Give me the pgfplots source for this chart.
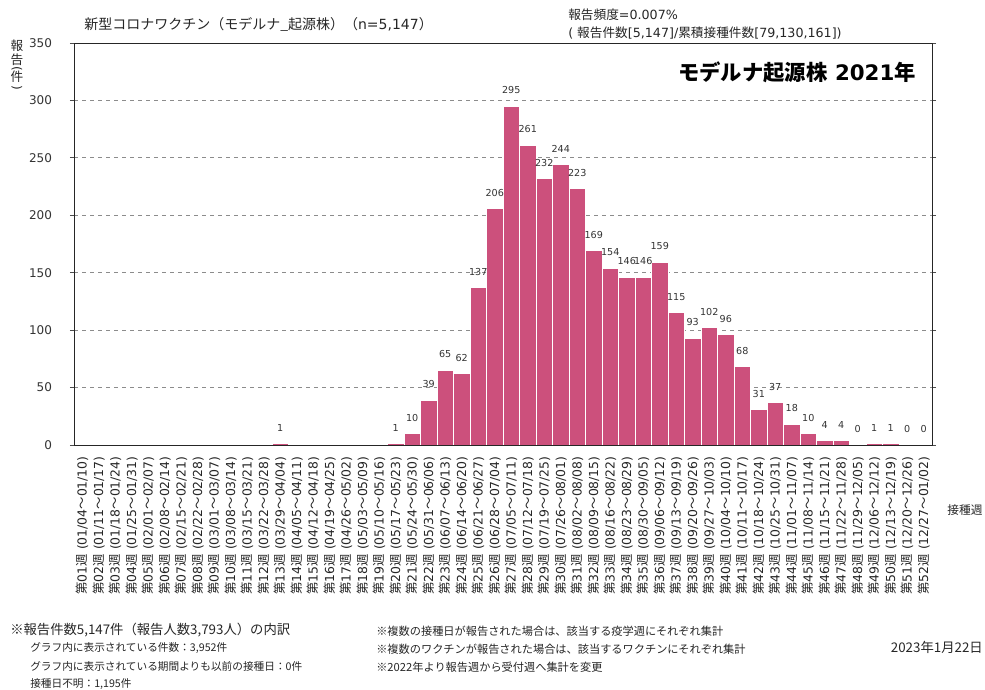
\documentclass[border=0pt]{standalone}
\usepackage{fontspec}
\setmainfont{DejaVu Sans}
\newfontfamily\cjk{Noto Sans CJK JP}
\usepackage{pgfplots}
\pgfplotsset{compat=1.18}
\definecolor{barc}{RGB}{204,80,124}
\newcommand\wk[3]{{\cjk 第}#1{\cjk 週} (#2{\cjk ～}#3)}
\pgfplotstableread{
x y
1 0
2 0
3 0
4 0
5 0
6 0
7 0
8 0
9 0
10 0
11 0
12 0
13 1
14 0
15 0
16 0
17 0
18 0
19 0
20 1
21 10
22 39
23 65
24 62
25 137
26 206
27 295
28 261
29 232
30 244
31 223
32 169
33 154
34 146
35 146
36 159
37 115
38 93
39 102
40 96
41 68
42 31
43 37
44 18
45 10
46 4
47 4
48 0
49 1
50 1
51 0
52 0
}\weeks
\pgfplotstableread{
x y
13 1
20 1
21 10
22 39
23 65
24 62
25 137
26 206
27 295
28 261
29 232
30 244
31 223
32 169
33 154
34 146
35 146
36 159
37 115
38 93
39 102
40 96
41 68
42 31
43 37
44 18
45 10
46 4
47 4
48 0
49 1
50 1
51 0
52 0
}\labs
\begin{document}
\begin{tikzpicture}
\begin{scope}[x=0.75pt,y=-0.75pt]
\path[use as bounding box] (0,0) rectangle (985,689);
\end{scope}
\begin{axis}[
  at={(55.5pt,-333.75pt)}, anchor=south west,
  scale only axis, width=643.5pt, height=301.5pt,
  xmin=0.5, xmax=52.5, ymin=0, ymax=350,
  ytick={0,50,...,350},
  xtick={1,...,52},
  /pgf/number format/assume math mode=true,
  xticklabels={\wk{01}{01/04}{01/10},\wk{02}{01/11}{01/17},\wk{03}{01/18}{01/24},\wk{04}{01/25}{01/31},
  \wk{05}{02/01}{02/07},\wk{06}{02/08}{02/14},\wk{07}{02/15}{02/21},\wk{08}{02/22}{02/28},
  \wk{09}{03/01}{03/07},\wk{10}{03/08}{03/14},\wk{11}{03/15}{03/21},\wk{12}{03/22}{03/28},
  \wk{13}{03/29}{04/04},\wk{14}{04/05}{04/11},\wk{15}{04/12}{04/18},\wk{16}{04/19}{04/25},
  \wk{17}{04/26}{05/02},\wk{18}{05/03}{05/09},\wk{19}{05/10}{05/16},\wk{20}{05/17}{05/23},
  \wk{21}{05/24}{05/30},\wk{22}{05/31}{06/06},\wk{23}{06/07}{06/13},\wk{24}{06/14}{06/20},
  \wk{25}{06/21}{06/27},\wk{26}{06/28}{07/04},\wk{27}{07/05}{07/11},\wk{28}{07/12}{07/18},
  \wk{29}{07/19}{07/25},\wk{30}{07/26}{08/01},\wk{31}{08/02}{08/08},\wk{32}{08/09}{08/15},
  \wk{33}{08/16}{08/22},\wk{34}{08/23}{08/29},\wk{35}{08/30}{09/05},\wk{36}{09/06}{09/12},
  \wk{37}{09/13}{09/19},\wk{38}{09/20}{09/26},\wk{39}{09/27}{10/03},\wk{40}{10/04}{10/10},
  \wk{41}{10/11}{10/17},\wk{42}{10/18}{10/24},\wk{43}{10/25}{10/31},\wk{44}{11/01}{11/07},
  \wk{45}{11/08}{11/14},\wk{46}{11/15}{11/21},\wk{47}{11/22}{11/28},\wk{48}{11/29}{12/05},
  \wk{49}{12/06}{12/12},\wk{50}{12/13}{12/19},\wk{51}{12/20}{12/26},\wk{52}{12/27}{01/02}},
  xticklabel style={rotate=90, anchor=east, font=\fontsize{9.3}{10}\selectfont, xshift=-2pt, text=black!85},
  yticklabel style={font=\fontsize{9}{10}\selectfont, xshift=-10pt, text=black!80},
  ymajorgrids, grid style={dashed, black!45, line width=0.6pt},
  tick align=outside, major tick length=3pt,
  major x tick style={draw=none},
  y tick style={black!70, line width=0.6pt},
  axis line style={black!85, line width=0.7pt},
  clip=false,
]
\addplot[ybar, bar width=1, fill=barc, draw=white, line width=0.7pt] table[x=x,y=y]{\weeks};
\addplot[draw=none, mark=none, nodes near coords, point meta=y,
  every node near coord/.append style={font=\fontsize{7.2}{8}\selectfont, text=black!80, anchor=south, inner sep=0pt, yshift=9pt},
  /pgf/number format/.cd, fixed, precision=0, assume math mode=true] table[x=x,y=y]{\labs};
\draw[black!85, line width=0.7pt] (rel axis cs:0,0) rectangle (rel axis cs:1,1);
\end{axis}
\begin{scope}[x=0.75pt,y=-0.75pt]
\node[anchor=west, inner sep=0pt, font=\fontsize{10.5}{12}\selectfont, text=black!85] at (84,24) {{\cjk 新型コロナワクチン（モデルナ\_起源株）（}n=5,147{\cjk ）}};
\node[anchor=west, inner sep=0pt, font=\fontsize{9.5}{11}\selectfont, text=black!85] at (568,15) {{\cjk 報告頻度}=0.007\%};
\node[anchor=west, inner sep=0pt, font=\fontsize{9.5}{11}\selectfont, text=black!85] at (568,33) {( {\cjk 報告件数}[5,147]/{\cjk 累積接種件数}[79,130,161])};
\node[anchor=east, inner sep=0pt, font=\fontsize{16}{18}\selectfont\bfseries] at (916,72) {{\cjk\bfseries モデルナ起源株} 2021{\cjk\bfseries 年}};
\begin{scope}[every node/.style={inner sep=0pt, font=\cjk\fontsize{9.5}{11}\selectfont, text=black!85}]
\node at (17,46) {報};
\node at (17,60) {告};
\node[rotate=-90, font=\fontsize{9}{10}\selectfont] at (17,69) {(};
\node at (17,77) {件};
\node[rotate=-90, font=\fontsize{9}{10}\selectfont] at (17,88) {)};
\end{scope}
\node[inner sep=0pt, font=\cjk\fontsize{8.8}{10}\selectfont, text=black!85] at (965,510) {接種週};
\node[anchor=west, inner sep=0pt, font=\cjk\fontsize{10}{12}\selectfont, text=black!85] at (10,630) {※報告件数5,147件（報告人数3,793人）の内訳};
\node[anchor=west, inner sep=0pt, font=\cjk\fontsize{8}{10}\selectfont, text=black!85] at (30,648) {グラフ内に表示されている件数：3,952件};
\node[anchor=west, inner sep=0pt, font=\cjk\fontsize{8}{10}\selectfont, text=black!85] at (30,666) {グラフ内に表示されている期間よりも以前の接種日：0件};
\node[anchor=west, inner sep=0pt, font=\cjk\fontsize{8}{10}\selectfont, text=black!85] at (30,684) {接種日不明：1,195件};
\node[anchor=west, inner sep=0pt, font=\cjk\fontsize{8.4}{10}\selectfont, text=black!85] at (376,631) {※複数の接種日が報告された場合は、該当する疫学週にそれぞれ集計};
\node[anchor=west, inner sep=0pt, font=\cjk\fontsize{8.4}{10}\selectfont, text=black!85] at (376,649) {※複数のワクチンが報告された場合は、該当するワクチンにそれぞれ集計};
\node[anchor=west, inner sep=0pt, font=\cjk\fontsize{8.4}{10}\selectfont, text=black!85] at (376,667) {※2022年より報告週から受付週へ集計を変更};
\node[anchor=east, inner sep=0pt, font=\cjk\fontsize{10}{12}\selectfont, text=black!85] at (983,647) {2023年1月22日};
\end{scope}
\end{tikzpicture}
\end{document}
